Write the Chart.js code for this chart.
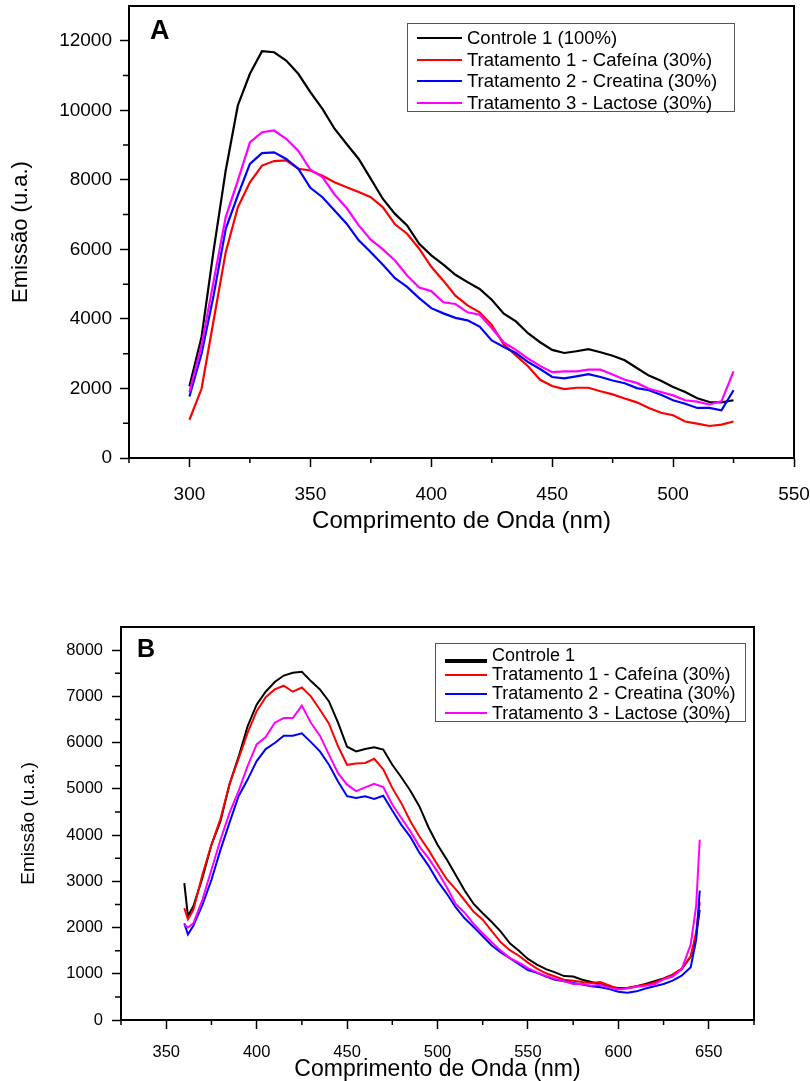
<!DOCTYPE html>
<html lang="pt">
<head>
<meta charset="utf-8">
<title>Emissão - Comprimento de Onda</title>
<script src="https://cdn.jsdelivr.net/npm/chart.js@4.4.1/dist/chart.umd.min.js"></script>
<style>
  html, body { margin: 0; padding: 0; background: #fff; }
  body { width: 810px; height: 1081px; position: relative; overflow: hidden;
         font-family: "Liberation Sans", Arial, sans-serif; color: #000; }
  canvas { position: absolute; left: 0; }
  #graficoA { top: 0; }
  #graficoB { top: 600px; }
  .legenda { position: absolute; box-sizing: border-box; border: 1.5px solid #555; background: #fff; }
  .legenda .item { display: flex; align-items: center; white-space: nowrap; }
  .legenda .amostra { display: inline-block; height: 0; }
  .letra { position: absolute; font-weight: bold; line-height: 1; }
</style>
</head>
<body>
<canvas id="graficoA" width="810" height="540"></canvas>
<canvas id="graficoB" width="810" height="481"></canvas>
<div class="letra" style="left:150px; top:17px; font-size:27px;">A</div>
<div class="letra" style="left:137px; top:636px; font-size:25px;">B</div>
<div id="legendaA" class="legenda" style="left:407px; top:23px; width:328px; height:89px; padding:3px 0 0 9px;"></div>
<div id="legendaB" class="legenda" style="left:435px; top:643px; width:311px; height:79px; padding:2px 0 0 9px;"></div>

<script>
// ---- Painel A : espectro de 300 a 525 nm ----
const comprimentoA = [300,305,310,315,320,325,330,335,340,345,350,355,360,365,370,375,380,385,390,395,
                      400,405,410,415,420,425,430,435,440,445,450,455,460,465,470,475,480,485,490,495,
                      500,505,510,515,520,525];
const controleA = [2060,3480,5970,8270,10140,11050,11700,11670,11430,11050,10520,10040,9470,9030,8600,8030,7450,7020,6690,6160,
                   5830,5560,5270,5060,4860,4550,4150,3930,3590,3330,3110,3020,3070,3130,3040,2940,2810,2590,2370,2220,
                   2040,1900,1720,1610,1600,1660];
const cafeinaA = [1100,1990,3960,5920,7210,7930,8410,8540,8560,8320,8270,8120,7930,7790,7650,7500,7210,6720,6450,6020,
                  5500,5100,4670,4390,4190,3830,3260,2950,2640,2250,2070,1980,2020,2020,1920,1830,1710,1600,1440,1300,
                  1230,1050,990,920,960,1050];
const creatinaA = [1770,3000,4680,6590,7550,8460,8770,8790,8600,8320,7770,7500,7120,6740,6260,5920,5560,5170,4920,4600,
                   4310,4160,4030,3960,3780,3380,3190,3020,2760,2560,2330,2290,2350,2410,2330,2230,2150,2010,1950,1820,
                   1660,1560,1440,1440,1370,1950];
const lactoseA = [1900,3240,5090,6930,7980,9080,9370,9420,9180,8840,8290,8080,7580,7190,6690,6280,6000,5680,5250,4900,
                  4800,4480,4430,4190,4120,3740,3320,3110,2860,2650,2470,2490,2490,2540,2540,2400,2250,2160,1990,1900,
                  1800,1660,1620,1540,1630,2490];
const ticksXA = [300, 350, 400, 450, 500, 550];
const ticksYA = [0, 2000, 4000, 6000, 8000, 10000, 12000];
const rotulosA = ['Controle 1 (100%)', 'Tratamento 1 - Cafeína (30%)', 'Tratamento 2 - Creatina (30%)', 'Tratamento 3 - Lactose (30%)'];

// ---- Painel B : espectro de 360 a 645 nm ----
const comprimentoB = [360,362,365,370,375,380,385,390,395,400,405,410,415,420,425,430,435,440,445,450,
                      455,460,465,470,475,480,485,490,495,500,505,510,515,520,525,530,535,540,545,550,
                      555,560,565,570,575,580,585,590,595,600,605,610,615,620,625,630,635,640,643,645];
const controleB = [2960,2250,2460,3070,3790,4300,5100,5690,6350,6820,7100,7310,7450,7510,7530,7330,7150,6890,6430,5910,
                   5810,5860,5900,5850,5520,5250,4960,4620,4170,3790,3480,3140,2800,2510,2310,2120,1910,1660,1500,1320,
                   1200,1100,1030,950,940,870,820,780,720,690,690,730,780,840,900,980,1100,1370,1810,2380];
const cafeinaB = [2420,2180,2380,3140,3790,4350,5100,5650,6210,6680,6980,7150,7230,7100,7190,7000,6710,6410,5920,5520,
                  5550,5560,5650,5420,5020,4690,4300,3970,3680,3360,3050,2830,2590,2340,2170,1920,1680,1510,1390,1240,
                  1110,1010,940,870,850,820,800,820,750,670,690,730,760,810,890,980,1110,1370,1900,2550];
const creatinaB = [2090,1850,2040,2490,3030,3680,4270,4840,5200,5600,5860,5990,6150,6150,6200,6010,5810,5520,5160,4840,
                   4800,4840,4780,4850,4530,4220,3960,3620,3340,3010,2740,2440,2200,2010,1810,1610,1460,1340,1210,1080,
                   1020,940,870,840,800,770,730,710,670,610,590,620,680,730,780,850,960,1140,1730,2800];
const lactoseB = [2060,2000,2090,2600,3250,3900,4480,4950,5490,5960,6120,6430,6530,6530,6800,6430,6150,5740,5340,5090,
                  4950,5030,5110,5040,4660,4370,4080,3750,3500,3210,2880,2510,2320,2080,1870,1680,1500,1340,1240,1120,
                  1030,950,890,840,780,780,740,760,700,660,680,720,740,770,880,940,1100,1630,2460,3900];
const ticksXB = [350, 400, 450, 500, 550, 600, 650];
const ticksYB = [0, 1000, 2000, 3000, 4000, 5000, 6000, 7000, 8000];
const rotulosB = ['Controle 1', 'Tratamento 1 - Cafeína (30%)', 'Tratamento 2 - Creatina (30%)', 'Tratamento 3 - Lactose (30%)'];

const cores = ['#000000', '#ff0000', '#0000ff', '#ff00ff'];

Chart.defaults.font.family = '"Liberation Sans", Arial, sans-serif';
Chart.defaults.color = '#000';

// ticks secundarios: pontos medios entre os ticks principais
function ticksMenores(scale, incluirMax) {
  const t = scale.ticks.map(k => k.value);
  const passo = t[1] - t[0];
  const out = [];
  for (let v = t[0] - passo / 2; v <= scale.max; v += passo) {
    if (v >= scale.min && (incluirMax || v < scale.max)) out.push(v);
  }
  return out;
}

// moldura (lados de cima e direita) + ticks secundarios
const molduraPlugin = {
  id: 'moldura',
  afterDraw(chart) {
    const { ctx, chartArea: a, scales: { x, y } } = chart;
    ctx.save();
    ctx.strokeStyle = '#000';
    ctx.lineWidth = 2;
    ctx.beginPath();
    ctx.moveTo(a.left, a.top);
    ctx.lineTo(a.right, a.top);
    ctx.lineTo(a.right, a.bottom);
    ctx.stroke();
    ctx.lineWidth = 1.5;
    ctx.beginPath();
    ticksMenores(x, true).forEach(v => {
      const px = x.getPixelForValue(v);
      ctx.moveTo(px, a.bottom);
      ctx.lineTo(px, a.bottom + 5);
    });
    ticksMenores(y, false).forEach(v => {
      const py = y.getPixelForValue(v);
      ctx.moveTo(a.left, py);
      ctx.lineTo(a.left - 6, py);
    });
    ctx.stroke();
    ctx.restore();
  }
};

function criarGrafico(cfg) {
  const datasets = cfg.series.map((serie, i) => ({
    label: cfg.rotulos[i],
    data: cfg.x.map((v, k) => ({ x: v, y: serie[k] })),
    borderColor: cores[i],
    backgroundColor: cores[i],
    borderWidth: cfg.espessura,
    pointRadius: 0,
    tension: 0,
    fill: false,
    order: cfg.series.length - 1 - i
  }));

  return new Chart(document.getElementById(cfg.canvas), {
    type: 'line',
    data: { datasets },
    options: {
      responsive: false,
      animation: false,
      events: [],
      devicePixelRatio: 1,
      layout: { padding: cfg.padding },
      plugins: { legend: { display: false }, tooltip: { enabled: false } },
      scales: {
        x: {
          type: 'linear',
          min: cfg.xMin,
          max: cfg.xMax,
          afterBuildTicks: s => { s.ticks = cfg.ticksX.map(v => ({ value: v })); },
          afterFit: s => { s.height = cfg.alturaX; s.paddingLeft = 0; s.paddingRight = 0; },
          grid: { drawOnChartArea: false, tickLength: 9, tickWidth: 1.5, tickColor: '#000' },
          border: { display: true, color: '#000', width: 2 },
          ticks: { color: '#000', font: { size: cfg.fonteTicks }, padding: cfg.padTicksX,
                   maxRotation: 0, autoSkip: false, callback: v => String(v) },
          title: { display: true, text: 'Comprimento de Onda (nm)', color: '#000',
                   font: { size: cfg.fonteTituloX, lineHeight: 1 },
                   padding: { top: 0, bottom: cfg.padTituloX } }
        },
        y: {
          type: 'linear',
          min: cfg.yMin,
          max: cfg.yMax,
          afterBuildTicks: s => { s.ticks = cfg.ticksY.map(v => ({ value: v })); },
          afterFit: s => { s.width = cfg.larguraY; s.paddingTop = 0; s.paddingBottom = 0; },
          grid: { drawOnChartArea: false, tickLength: 9, tickWidth: 1.5, tickColor: '#000' },
          border: { display: true, color: '#000', width: 2 },
          ticks: { color: '#000', font: { size: cfg.fonteTicks }, padding: cfg.padTicksY,
                   autoSkip: false, callback: v => String(v) },
          title: { display: true, text: 'Emissão (u.a.)', color: '#000',
                   font: { size: cfg.fonteTituloY, lineHeight: 1 },
                   padding: { top: cfg.padTituloY, bottom: 0 } }
        }
      }
    },
    plugins: [molduraPlugin]
  });
}

function montarLegenda(idCaixa, chart, est) {
  const caixa = document.getElementById(idCaixa);
  chart.data.datasets.forEach((ds, i) => {
    const item = document.createElement('div');
    item.className = 'item';
    item.style.height = est.alturaLinha + 'px';
    item.style.fontSize = est.fonte + 'px';
    const amostra = document.createElement('span');
    amostra.className = 'amostra';
    amostra.style.width = est.comprimento + 'px';
    amostra.style.marginRight = '5px';
    const grossura = (est.grossura && est.grossura[i]) || 2.5;
    amostra.style.borderTop = grossura + 'px solid ' + ds.borderColor;
    if (est.desloca && est.desloca[i]) amostra.style.transform = 'translateY(' + est.desloca[i] + 'px)';
    const texto = document.createElement('span');
    texto.textContent = ds.label;
    item.appendChild(amostra);
    item.appendChild(texto);
    caixa.appendChild(item);
  });
}

const graficoA = criarGrafico({
  canvas: 'graficoA', x: comprimentoA, series: [controleA, cafeinaA, creatinaA, lactoseA], rotulos: rotulosA,
  xMin: 275, xMax: 550, yMin: 0, yMax: 13000, ticksX: ticksXA, ticksY: ticksYA,
  larguraY: 129, alturaX: 82, padding: { top: 6, right: 16, left: 0, bottom: 0 },
  fonteTicks: 19, fonteTituloX: 24, fonteTituloY: 22, padTituloX: 7, padTituloY: 10,
  padTicksX: 16, padTicksY: 8, espessura: 2.2
});

const graficoB = criarGrafico({
  canvas: 'graficoB', x: comprimentoB, series: [controleB, cafeinaB, creatinaB, lactoseB], rotulos: rotulosB,
  xMin: 325, xMax: 675, yMin: 0, yMax: 8500, ticksX: ticksXB, ticksY: ticksYB,
  larguraY: 121, alturaX: 61, padding: { top: 27, right: 56, left: 0, bottom: 0 },
  fonteTicks: 16.5, fonteTituloX: 23, fonteTituloY: 19, padTituloX: 0, padTituloY: 19,
  padTicksX: 14, padTicksY: 9, espessura: 2
});

montarLegenda('legendaA', graficoA, { fonte: 18.5, alturaLinha: 21.7, comprimento: 45 });
montarLegenda('legendaB', graficoB, { fonte: 18, alturaLinha: 19.2, comprimento: 42, grossura: [4.5], desloca: [5] });
</script>
</body>
</html>
